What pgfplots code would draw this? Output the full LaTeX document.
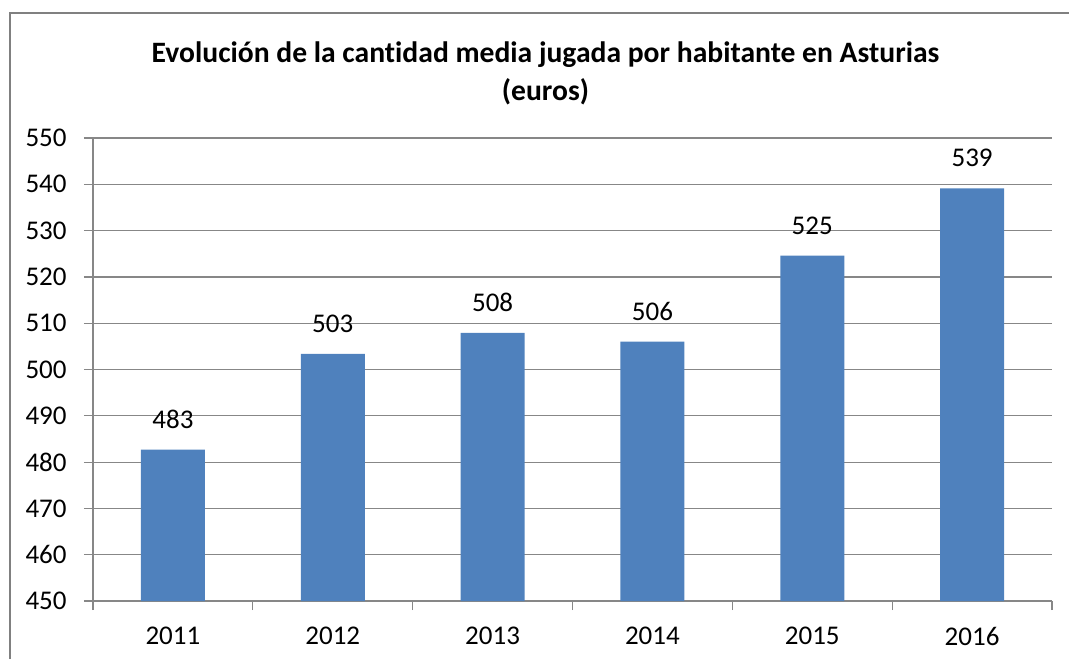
\documentclass[border=0pt]{standalone}
\usepackage{fontspec}
\setmainfont[Ligatures=NoCommon]{Carlito}
\usepackage{pgfplots}
\pgfplotsset{compat=1.18}
\definecolor{barblue}{HTML}{4F81BD}
\definecolor{gridgray}{HTML}{878787}
\definecolor{framegray}{HTML}{808080}
\begin{document}
\begin{tikzpicture}
\path[use as bounding box] (0pt,0pt) rectangle (534.5pt,-329.5pt);
\draw[framegray, line width=1pt] (5pt,-329.5pt) -- (5pt,-6.5pt) -- (534.5pt,-6.5pt);
\node[font=\fontsize{14.8}{19}\selectfont\bfseries, align=center] at (272.75pt,-36.5pt) {Evolución de la cantidad media jugada por habitante en Asturias\\(euros)};
\begin{axis}[
  at={(46.5pt,-300.5pt)}, anchor=south west,
  scale only axis, width=479.5pt, height=231.5pt,
  xmin=0.5, xmax=6.5, ymin=450, ymax=550,
  ytick={450,460,...,550},
  xtick={0.5,1.5,...,6.5}, xticklabels={},
  extra x ticks={1,2,3,4,5,6},
  extra x tick labels={2011,2012,2013,2014,2015,2016},
  extra x tick style={major tick length=0pt, grid=none,
    xticklabel style={anchor=north, inner sep=0pt, yshift=-13pt}},
  axis x line=bottom, axis y line=left,
  axis line style={-, draw=gridgray, line width=0.6pt},
  ymajorgrids, major grid style={gridgray, line width=0.6pt},
  tick style={gridgray, line width=0.6pt}, tick align=outside, major tick length=4.5pt,
  yticklabel style={anchor=east, inner sep=0pt, xshift=-8.5pt},
  ticklabel style={font=\fontsize{13.5}{15}\selectfont},
  /pgf/number format/assume math mode=true,
  ybar, bar width=32pt,
  clip=false,
  nodes near coords,
  nodes near coords style={font=\fontsize{13.5}{15}\selectfont, anchor=south, inner sep=0pt, yshift=10.5pt,
    /pgf/number format/.cd, fixed, precision=0, assume math mode=true},
]
\addplot[fill=barblue, draw=none] coordinates {
  (1,482.7) (2,503.4) (3,507.9) (4,506.0) (5,524.6) (6,539.1)
};
\end{axis}
\end{tikzpicture}
\end{document}
